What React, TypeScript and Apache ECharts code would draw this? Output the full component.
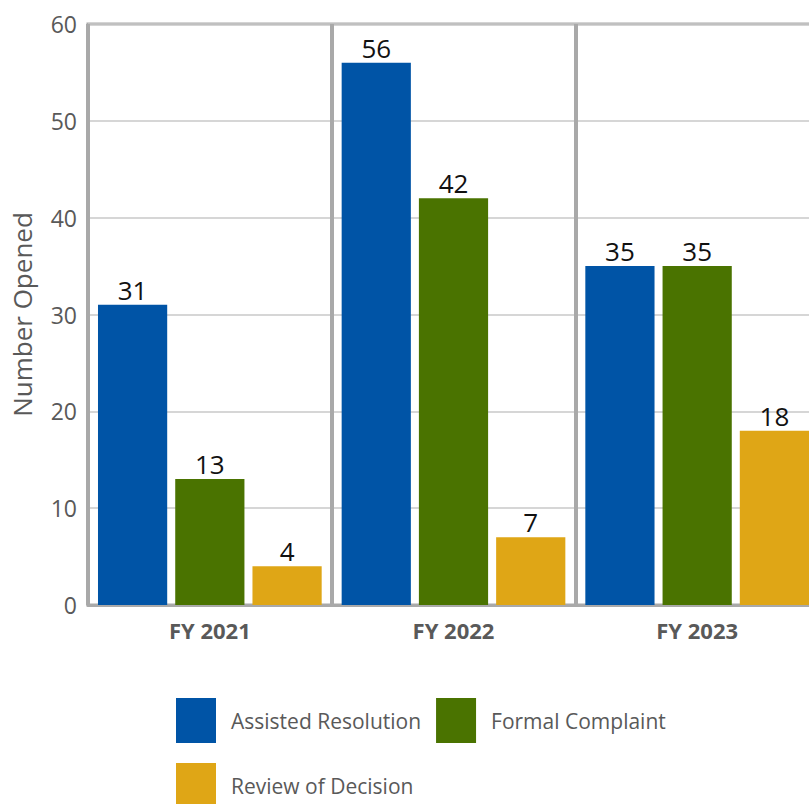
import React, { useEffect, useRef } from "react";
import * as echarts from "echarts";

const categories = ["FY 2021", "FY 2022", "FY 2023"];
const seriesNames = ["Assisted Resolution", "Formal Complaint", "Review of Decision"];
const assistedResolution = [31, 56, 35];
const formalComplaint = [13, 42, 35];
const reviewOfDecision = [4, 7, 18];
const seriesColors = ["#0054A6", "#4A7300", "#DFA616"];

const FONT = "'Open Sans', 'Noto Sans', sans-serif";

export default function App() {
  const ref = useRef<HTMLDivElement>(null);
  useEffect(() => {
    if (!ref.current) return;
    const chart = echarts.init(ref.current, undefined, { renderer: "svg" });
    const values = [assistedResolution, formalComplaint, reviewOfDecision];
    const legendText = {
      fontSize: 21,
      color: "#595959",
      fontFamily: FONT,
      padding: [0, 0, 0, 10],
    };
    chart.setOption({
      animation: false,
      backgroundColor: "#ffffff",
      textStyle: { fontFamily: FONT },
      grid: {
        left: 88,
        top: 24,
        height: 581,
        width: 731,
        outerBoundsMode: "none",
        containLabel: false,
        show: true,
        borderColor: "#a9a9a9",
        borderWidth: 3,
        backgroundColor: "transparent",
      },
      legend: [
        {
          data: [seriesNames[0], seriesNames[1]],
          left: 176,
          top: 698,
          orient: "horizontal",
          icon: "rect",
          itemWidth: 40,
          itemHeight: 45,
          itemGap: 15,
          padding: 0,
          textStyle: legendText,
        },
        {
          data: [seriesNames[2]],
          left: 176,
          top: 763,
          orient: "horizontal",
          icon: "rect",
          itemWidth: 40,
          itemHeight: 45,
          itemGap: 15,
          padding: 0,
          textStyle: legendText,
        },
      ],
      xAxis: {
        type: "category",
        data: categories,
        boundaryGap: true,
        axisTick: { show: false },
        axisLine: { show: true, lineStyle: { color: "#a9a9a9", width: 3 } },
        axisLabel: {
          fontSize: 22,
          fontWeight: "bold",
          color: "#595959",
          margin: 14,
          fontFamily: FONT,
        },
        splitLine: { show: true, lineStyle: { color: "#a9a9a9", width: 4 } },
      },
      yAxis: {
        type: "value",
        min: 0,
        max: 60,
        interval: 10,
        name: "Number Opened",
        nameLocation: "middle",
        nameRotate: 90,
        nameGap: 53,
        nameTextStyle: { fontSize: 26, color: "#595959", fontFamily: FONT },
        axisLine: { show: false },
        axisTick: { show: false },
        axisLabel: { fontSize: 23, color: "#595959", margin: 11, fontFamily: FONT },
        splitLine: { show: true, lineStyle: { color: "#c8c8c8", width: 1.5 } },
      },
      series: seriesNames.map((name, i) => ({
        name,
        type: "bar",
        data: values[i],
        barGap: "11.6%",
        barCategoryGap: "8.2%",
        itemStyle: { color: seriesColors[i] },
        label: {
          show: true,
          position: "top",
          distance: 2,
          fontSize: 26,
          color: "#111111",
          fontFamily: FONT,
        },
      })),
    });
    return () => chart.dispose();
  }, []);
  return (
    <div
      ref={ref}
      style={{ position: "fixed", left: 0, top: 0, width: 809, height: 804, background: "#fff" }}
    />
  );
}
